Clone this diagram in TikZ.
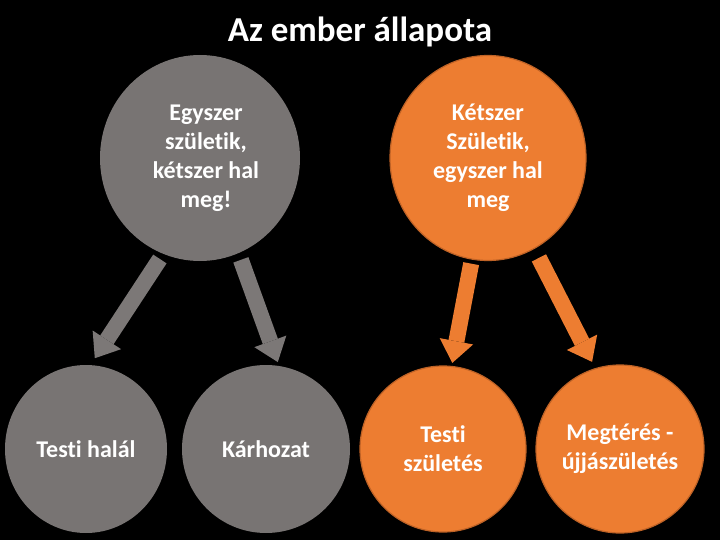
\documentclass[tikz,border=0pt]{standalone}
\usepackage{fontspec}
\setmainfont{Carlito}[Ligatures=NoCommon]
\usetikzlibrary{shapes.geometric,arrows.meta}
\definecolor{grayfill}{RGB}{120,116,115}
\definecolor{grayarr}{RGB}{124,120,119}
\definecolor{orangefill}{RGB}{237,125,49}
\definecolor{orangeline}{RGB}{190,98,38}
\tikzset{
  bubble/.style={ellipse, inner sep=0pt, align=center, text=white,
    font=\bfseries\fontsize{24}{29}\selectfont},
  graybubble/.style={bubble, fill=grayfill},
  orangebubble/.style={bubble, fill=orangefill, draw=orangeline, line width=1.2pt},
  blockarrow/.style={line width=16pt, -{Triangle[width=34pt,length=22pt,line width=0pt]}},
  grayarrow/.style={blockarrow, draw=grayarr, color=grayarr},
  orangearrow/.style={blockarrow, draw=orangefill, color=orangefill},
}
\begin{document}
\begin{tikzpicture}[x=1pt,y=-1pt]
\fill[black] (0,0) rectangle (720,540);
\useasboundingbox (0,0) rectangle (720,540);

\node[text=white, font=\bfseries\fontsize{35}{40}\selectfont, anchor=base] (title) at (360,42) {Az ember állapota};

\node[graybubble, minimum width=200pt, minimum height=206pt] (g0) at (200,158)
  {\hspace*{12pt}\begin{tabular}{@{}c@{}}Egyszer\\születik,\\kétszer hal\\meg!\end{tabular}};
\node[orangebubble, minimum width=196pt, minimum height=205pt] (o0) at (488,158)
  {Kétszer\\Születik,\\egyszer hal\\meg};

\node[graybubble, minimum width=162pt, minimum height=168pt] (g1) at (86,449) {Testi halál};
\node[graybubble, minimum width=168pt, minimum height=168pt] (g2) at (266,449) {Kárhozat};
\node[orangebubble, minimum width=166pt, minimum height=166pt] (o1) at (443,449) {Testi\\születés};
\node[orangebubble, minimum width=168pt, minimum height=168pt] (o2) at (620,449) {Megtérés -\\újjászületés};

\draw[grayarrow, shorten <=6pt, shorten >=8pt] (g0.249) -- (g1.87);
\draw[grayarrow, shorten <=7pt, shorten >=4pt] (g0.292) -- (g2.81);
\draw[orangearrow, shorten <=4pt, shorten >=3pt] (o0.261) -- (o1.84);
\draw[orangearrow, shorten <=10pt, shorten >=7pt] (o0.297) -- (o2.107);
\end{tikzpicture}
\end{document}
